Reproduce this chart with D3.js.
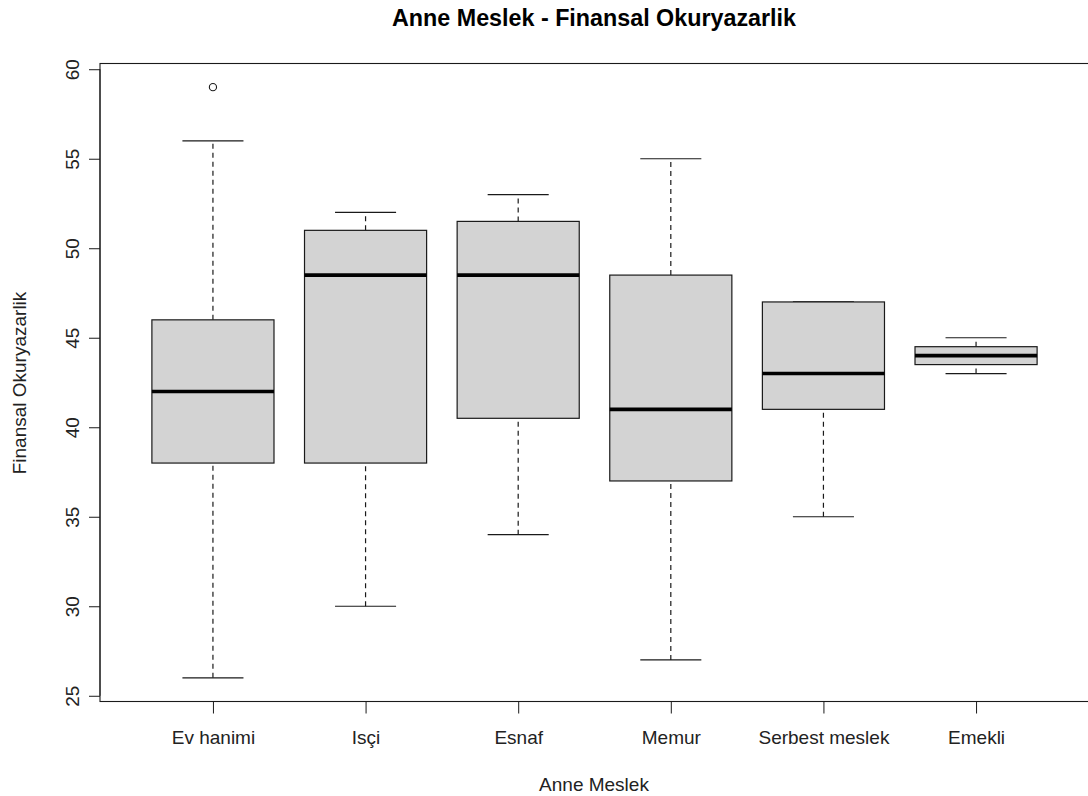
<!DOCTYPE html>
<html>
<head>
<meta charset="utf-8">
<script src="https://cdn.jsdelivr.net/npm/d3@7"></script>
<style>
  html, body { margin: 0; padding: 0; background: #fff; }
  svg { display: block; font-family: "Liberation Sans", Arial, sans-serif; }
</style>
</head>
<body>
<svg id="chart" width="1088" height="796"></svg>
<script>
// Occupation groups and their five-number summaries
const categories = ["Ev hanimi", "Isçi", "Esnaf", "Memur", "Serbest meslek", "Emekli"];
const whiskerLow  = [26, 30, 34,   27, 35, 43];
const q1          = [38, 38, 40.5, 37, 41, 43.5];
const median      = [42, 48.5, 48.5, 41, 43, 44];
const q3          = [46, 51, 51.5, 48.5, 47, 44.5];
const whiskerHigh = [56, 52, 53,   55, 47, 45];
const outliers    = [[59], [], [], [], [], []];
const yTicks = [25, 30, 35, 40, 45, 50, 55, 60];

const svg = d3.select("#chart");
const ink = "#1a1a1a";
const fontSize = 19;

const x = d3.scaleLinear().domain([0.26, 6.74]).range([100, 1089]);
const y = d3.scaleLinear().domain([24.68, 60.32]).range([701.5, 63.5]);

// plot frame
svg.append("rect")
  .attr("x", x(0.26)).attr("y", y(60.32))
  .attr("width", x(6.74) - x(0.26)).attr("height", y(24.68) - y(60.32))
  .attr("fill", "none").attr("stroke", ink).attr("stroke-width", 1.1);

const boxes = categories.map((c, i) => ({
  c, pos: i + 1, lo: whiskerLow[i], q1: q1[i], med: median[i], q3: q3[i], hi: whiskerHigh[i], out: outliers[i]
}));

const g = svg.append("g");
const half = 0.4, capHalf = 0.2;

boxes.forEach(b => {
  // dashed whiskers
  [[b.lo, b.q1], [b.q3, b.hi]].forEach(([a, z]) => {
    if (a === z) return;
    g.append("line")
      .attr("x1", x(b.pos)).attr("x2", x(b.pos))
      .attr("y1", y(a)).attr("y2", y(z))
      .attr("stroke", ink).attr("stroke-width", 1.2).attr("stroke-dasharray", "5,4");
  });
  // whisker caps
  [b.lo, b.hi].forEach(v => {
    g.append("line")
      .attr("x1", x(b.pos - capHalf)).attr("x2", x(b.pos + capHalf))
      .attr("y1", y(v)).attr("y2", y(v))
      .attr("stroke", ink).attr("stroke-width", 1.2);
  });
  // box
  g.append("rect")
    .attr("x", x(b.pos - half)).attr("y", y(b.q3))
    .attr("width", x(b.pos + half) - x(b.pos - half))
    .attr("height", y(b.q1) - y(b.q3))
    .attr("fill", "#d3d3d3").attr("stroke", ink).attr("stroke-width", 1.2);
  // median
  g.append("line")
    .attr("x1", x(b.pos - half)).attr("x2", x(b.pos + half))
    .attr("y1", y(b.med)).attr("y2", y(b.med))
    .attr("stroke", "#000").attr("stroke-width", 3.6);
  // outliers
  b.out.forEach(v => {
    g.append("circle")
      .attr("cx", x(b.pos)).attr("cy", y(v)).attr("r", 3.6)
      .attr("fill", "none").attr("stroke", ink).attr("stroke-width", 1.1);
  });
});

// y axis (line spans first to last tick, rotated labels)
const yAxis = d3.axisLeft(y).tickValues(yTicks).tickSize(11).tickSizeOuter(0).tickPadding(0).tickFormat(d3.format("d"));
const ya = svg.append("g").attr("transform", `translate(${x(0.26)},0)`).call(yAxis);
ya.select(".domain").attr("d", `M0,${y(25)}V${y(60)}`).attr("stroke", ink);
ya.selectAll(".tick line").attr("stroke", ink);
ya.selectAll(".tick text")
  .attr("x", null).attr("dy", null)
  .attr("transform", "translate(-28,0) rotate(-90)")
  .attr("text-anchor", "middle").attr("dominant-baseline", "auto")
  .attr("y", 6.5)
  .attr("fill", "#222").attr("font-size", fontSize)
  .style("font-family", "'Liberation Sans', Arial, sans-serif");

// x axis
const xAxis = d3.axisBottom(x).tickValues(d3.range(1, categories.length + 1)).tickSize(12).tickSizeOuter(0)
  .tickFormat(d => categories[d - 1]);
const xa = svg.append("g").attr("transform", `translate(0,${y(24.68)})`).call(xAxis);
xa.select(".domain").attr("d", `M${x(1)},0H${x(6)}`).attr("stroke", ink);
xa.selectAll(".tick line").attr("stroke", ink);
xa.selectAll(".tick text")
  .attr("y", 42).attr("dy", null)
  .attr("fill", "#222").attr("font-size", fontSize)
  .style("font-family", "'Liberation Sans', Arial, sans-serif");

// titles
svg.append("text")
  .attr("x", 594).attr("y", 26).attr("text-anchor", "middle")
  .attr("font-size", 23.3).attr("font-weight", "bold").attr("fill", "#000")
  .text("Anne Meslek - Finansal Okuryazarlik");

svg.append("text")
  .attr("x", 594).attr("y", 791).attr("text-anchor", "middle")
  .attr("font-size", fontSize).attr("fill", "#222")
  .text("Anne Meslek");

svg.append("text")
  .attr("transform", `translate(26,383) rotate(-90)`).attr("text-anchor", "middle")
  .attr("font-size", fontSize).attr("fill", "#222")
  .text("Finansal Okuryazarlik");
</script>
</body>
</html>
